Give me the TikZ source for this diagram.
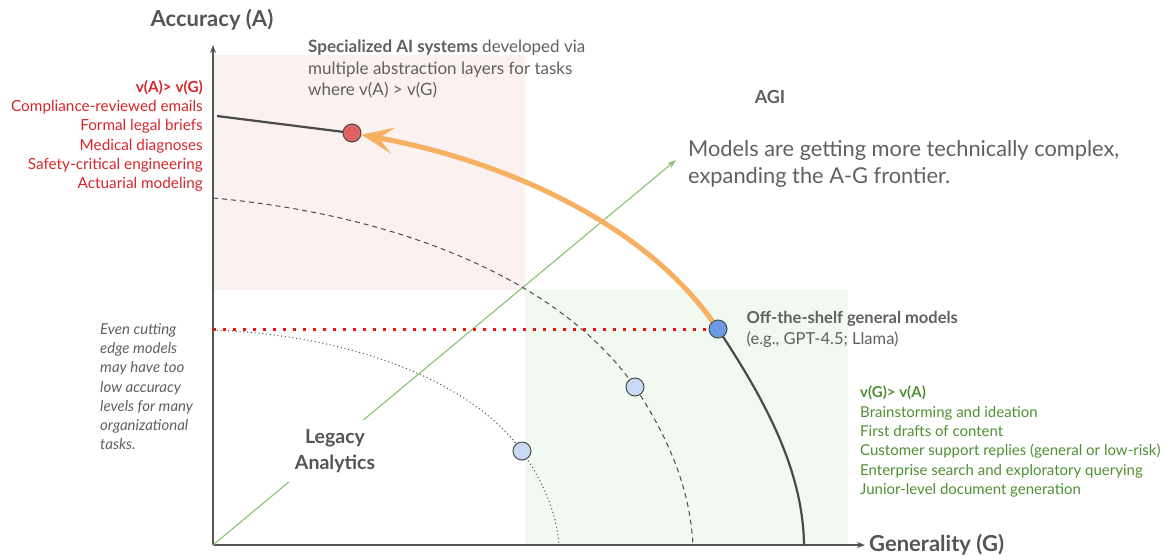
\documentclass[tikz,border=0pt]{standalone}
\usepackage{fontspec}
\setmainfont{Lato}
\usetikzlibrary{arrows.meta,positioning,calc,backgrounds}

\definecolor{axisGray}{HTML}{555555}
\definecolor{textGray}{HTML}{606060}
\definecolor{curveGray}{HTML}{4A4A4A}
\definecolor{specRed}{HTML}{D7262B}
\definecolor{cutRed}{HTML}{F01010}
\definecolor{genGreen}{HTML}{4F8F32}
\definecolor{pinkZone}{HTML}{FBF1F0}
\definecolor{greenZone}{HTML}{F1F9F1}
\definecolor{pushOrange}{HTML}{F5B062}
\definecolor{trendGreen}{HTML}{8DC57B}
\definecolor{dotRed}{HTML}{E06363}
\definecolor{dotBlue}{HTML}{6C9BE6}
\definecolor{dotPale}{HTML}{C8D8F5}

\begin{document}
\begin{tikzpicture}
    [x=1pt,y=-1pt,
    axis/.style={draw=axisGray,line width=1.4pt,-{Stealth[length=8pt,width=6pt]}},
    axis label/.style={
        text=axisGray,
        font=\fontsize{22}{26}\selectfont\bfseries,
        inner sep=0pt
    },
    note/.style 2 args={
        text=#1,
        align=#2,
        inner sep=0pt
    },
    note/.default={textGray}{left},
    size/.style 2 args={font=\fontsize{#1}{#2}\selectfont},
    model dot/.style={
        circle,
        draw=curveGray,
        line width=1pt,
        fill=#1,
        minimum size=18pt,
        inner sep=0pt
    },
    frontier/.style={draw=curveGray,line width=2.2pt},
    old frontier/.style={draw=curveGray,line width=1pt,dash pattern=on 5pt off 4pt},
    legacy frontier/.style={draw=curveGray,line width=1pt,dash pattern=on 1pt off 2.8pt},
    cut line/.style={draw=cutRed,line width=3pt,dash pattern=on 3pt off 7pt},
    trend/.style={draw=trendGreen,line width=1.2pt,-{Stealth[length=9pt,width=6pt]}},
    push/.style={draw=pushOrange,line width=5pt,-{Stealth[length=32pt,width=26pt,inset=14pt]}}]

    \useasboundingbox (0,0) rectangle (1166,555);

    %%% content
    \coordinate (origin) at (213,545);
    \coordinate (yTop) at (213,45);
    \coordinate (xEnd) at (865,545);
    \coordinate (agiTip) at (676,160);
    \coordinate (frontStart) at (217,116);
    \coordinate (frontEnd) at (804,545);
    \coordinate (dashStart) at (213,198);
    \coordinate (dashEnd) at (693,545);
    \coordinate (dotStart) at (213,330);
    \coordinate (dotEnd) at (559,545);
    \coordinate (cutStart) at (213,329);

    \node (special) [model dot=dotRed] at (352,133) {};
    \node (offShelf) [model dot=dotBlue] at (718,329) {};
    \node (midModel) [model dot=dotPale] at (635,387) {};
    \node (oldModel) [model dot=dotPale] at (522,451) {};

    \node (accuracy) [axis label] at (212,20) {Accuracy (A)};
    \node (generality) [axis label,anchor=west] at (869,545) {Generality (G)};

    \node (accNote) [note={specRed}{right},size={15.3}{19.3},anchor=north east] at (203,80) {%
        \textbf{v(A)> v(G)}\\Compliance-reviewed emails\\Formal legal briefs\\
        Medical diagnoses\\Safety-critical engineering\\Actuarial modeling};
    \node (specNote) [note={textGray}{left},size={17}{21.5},anchor=north west] at (308,40) {%
        \textbf{Specialized AI systems} developed via\\multiple abstraction layers for tasks\\where v(A) > v(G)};
    \node (agi) [note,font=\fontsize{18}{20}\selectfont\bfseries] at (770,97) {AGI};
    \node (complexNote) [note,size={21.8}{27.5},anchor=north west] at (688,140) {%
        Models are getting more technically complex,\\expanding the A-G frontier.};
    \node (offNote) [note,size={16.5}{21},right=19pt of offShelf] {%
        \textbf{Off-the-shelf general models}\\(e.g., GPT-4.5; Llama)};
    \node (genNote) [note={genGreen}{left},size={15}{19.3},anchor=north west] at (860,386) {%
        \textbf{v(G)> v(A)}\\Brainstorming and ideation\\First drafts of content\\
        Customer support replies (general or low-risk)\\
        Enterprise search and exploratory querying\\Junior-level document generation};
    \node (lowNote) [note,font=\fontsize{15}{19.3}\selectfont\itshape,anchor=north west] at (100,323) {%
        Even cutting\\edge models\\may have too\\low accuracy\\levels for many\\organizational\\tasks.};
    \node (legacy) [note={axisGray}{center},font=\fontsize{19.5}{26}\selectfont\bfseries,fill=white,inner sep=9pt] at (335,451) {Legacy\\Analytics};

    %% lines
    \begin{scope}[on background layer]
        \fill[pinkZone] (213,55) rectangle (525,290);
        \fill[greenZone] (525,290) rectangle (848,545);
        \draw[axis] (origin) -- (yTop);
        \draw[axis] (origin) -- (xEnd);
        \draw[trend] (origin) -- (agiTip);
        \draw[legacy frontier] (dotStart) .. controls (350,335) and (470,380) .. (oldModel.center)
            .. controls (545,485) and (557,515) .. (dotEnd);
        \draw[old frontier] (dashStart) .. controls (400,215) and (560,280) .. (midModel.center)
            .. controls (670,440) and (690,490) .. (dashEnd);
        \draw[cut line] (cutStart) -- (offShelf.center);
        \draw[frontier] (frontStart) -- (special.center);
        \draw[frontier] (offShelf.center) .. controls (765,400) and (803,470) .. (frontEnd);
    \end{scope}
    \draw[push] (offShelf) .. controls (640,220) and (500,160) .. (special);
\end{tikzpicture}
\end{document}
